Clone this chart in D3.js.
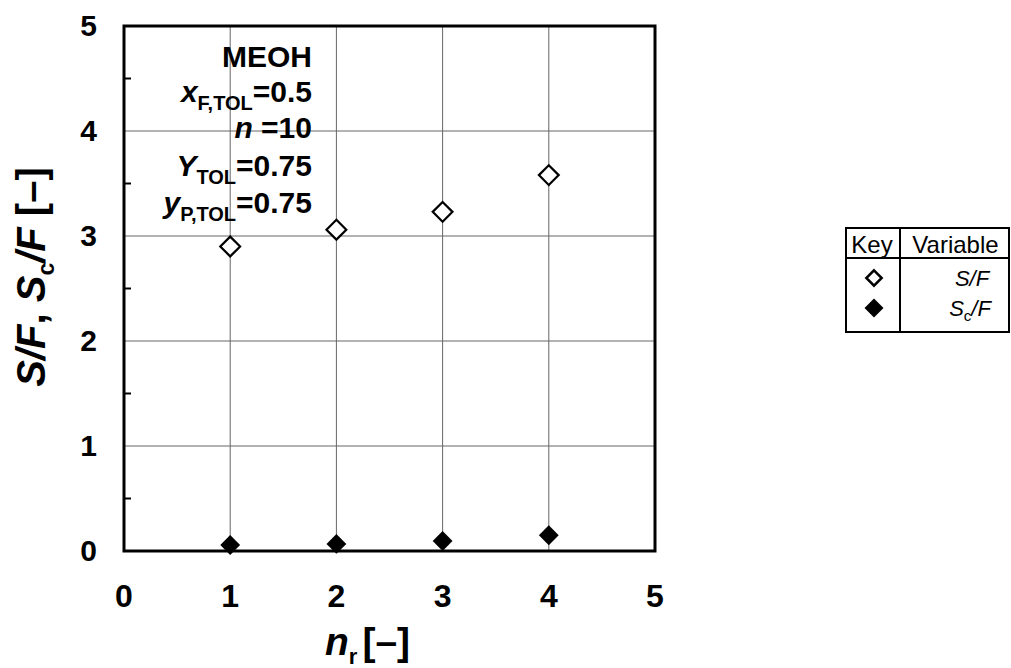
<!DOCTYPE html>
<html>
<head>
<meta charset="utf-8">
<script src="https://cdn.jsdelivr.net/npm/d3@7"></script>
<style>
  html, body { margin: 0; padding: 0; background: #fff; }
  svg { display: block; font-family: "Liberation Sans", Arial, sans-serif; }
</style>
</head>
<body>
<svg id="chart" width="1011" height="668"></svg>
<script>
// Number of reactor stages n_r and the two solvent ratios
const nr = [1, 2, 3, 4];
const sF = [2.90, 3.06, 3.23, 3.58];      // S/F
const scF = [0.057, 0.067, 0.095, 0.15];  // Sc/F
const xTicks = [0, 1, 2, 3, 4, 5];
const yTicks = [0, 1, 2, 3, 4, 5];
const yMinorTicks = [0.5, 1.5, 2.5, 3.5, 4.5];

const svg = d3.select("#chart");
const x = d3.scaleLinear().domain([0, 5]).range([124, 655]);
const y = d3.scaleLinear().domain([0, 5]).range([551, 26]);

// grid lines
const grid = svg.append("g").attr("stroke", "#666").attr("stroke-width", 1);
grid.selectAll("line.v").data(xTicks.slice(1, -1)).join("line")
  .attr("x1", d => x(d)).attr("x2", d => x(d))
  .attr("y1", y(0)).attr("y2", y(5));
grid.selectAll("line.h").data(yTicks.slice(1, -1)).join("line")
  .attr("x1", x(0)).attr("x2", x(5))
  .attr("y1", d => y(d)).attr("y2", d => y(d));

// minor ticks on the y axis, pointing inward
svg.append("g").selectAll("line").data(yMinorTicks).join("line")
  .attr("x1", x(0)).attr("x2", x(0) + 7)
  .attr("y1", d => y(d)).attr("y2", d => y(d))
  .attr("stroke", "#000").attr("stroke-width", 2);

// plot frame
svg.append("rect")
  .attr("x", x(0)).attr("y", y(5))
  .attr("width", x(5) - x(0)).attr("height", y(0) - y(5))
  .attr("fill", "none").attr("stroke", "#000").attr("stroke-width", 3);

// tick labels
svg.append("g").selectAll("text").data(xTicks).join("text")
  .attr("x", d => x(d)).attr("y", 607)
  .attr("text-anchor", "middle")
  .attr("font-size", 32).attr("font-weight", "bold")
  .text(d => d);
svg.append("g").selectAll("text").data(yTicks).join("text")
  .attr("x", 97).attr("y", d => y(d) + 10)
  .attr("text-anchor", "end")
  .attr("font-size", 30).attr("font-weight", "bold")
  .text(d => d);

// axis titles
const xt = svg.append("text")
  .attr("x", 325).attr("y", 655)
  .attr("font-size", 39).attr("font-weight", "bold");
xt.append("tspan").attr("font-style", "italic").text("n");
xt.append("tspan").attr("font-size", 22).attr("dy", 9).text("r");
xt.append("tspan").attr("dy", -9).attr("dx", 5).text("[\u2013]");

const yt = svg.append("text")
  .attr("transform", "translate(45,277) rotate(-90)")
  .attr("text-anchor", "middle")
  .attr("font-size", 40).attr("font-weight", "bold");
yt.append("tspan").attr("font-style", "italic").text("S/F");
yt.append("tspan").text(", ");
yt.append("tspan").attr("font-style", "italic").text("S");
yt.append("tspan").attr("font-size", 23).attr("dy", 9).text("c");
yt.append("tspan").attr("dy", -9).attr("font-style", "italic").text("/F");
yt.append("tspan").text(" [\u2013]");

// parameter annotation
const ann = svg.append("g").attr("font-size", 30).attr("font-weight", "bold")
  .attr("text-anchor", "end");
const annX = 312;
ann.append("text").attr("x", annX).attr("y", 67).text("MEOH");
function subLine(yy, main, sub, rest) {
  const t = ann.append("text").attr("x", annX).attr("y", yy);
  t.append("tspan").attr("font-style", "italic").text(main);
  if (sub) {
    t.append("tspan").attr("font-size", 20).attr("dy", 8).text(sub);
    t.append("tspan").attr("dy", -8).text(rest);
  } else {
    t.append("tspan").text(rest);
  }
}
subLine(102, "x", "F,TOL", "=0.5");
subLine(138, "n", null, " =10");
subLine(176, "Y", "TOL", "=0.75");
subLine(213, "y", "P,TOL", "=0.75");

// markers
const diamond = d3.symbol().type(d3.symbolDiamond2);
svg.append("g").selectAll("path").data(nr).join("path")
  .attr("d", diamond.size(250)())
  .attr("transform", (d, i) => `translate(${x(d)},${y(sF[i])})`)
  .attr("fill", "#fff").attr("stroke", "#000").attr("stroke-width", 2.2);
svg.append("g").selectAll("path").data(nr).join("path")
  .attr("d", diamond.size(250)())
  .attr("transform", (d, i) => `translate(${x(d)},${y(scF[i])})`)
  .attr("fill", "#000");

// legend table
const lg = svg.append("g");
const L = { x0: 846, x1: 900, x2: 1009, y0: 228, y1: 258, y2: 332 };
lg.append("rect").attr("x", L.x0).attr("y", L.y0)
  .attr("width", L.x2 - L.x0).attr("height", L.y2 - L.y0)
  .attr("fill", "#fff").attr("stroke", "#000").attr("stroke-width", 2);
lg.append("line").attr("x1", L.x1).attr("x2", L.x1).attr("y1", L.y0).attr("y2", L.y2)
  .attr("stroke", "#000").attr("stroke-width", 2);
lg.append("line").attr("x1", L.x0).attr("x2", L.x2).attr("y1", L.y1).attr("y2", L.y1)
  .attr("stroke", "#000").attr("stroke-width", 2);
lg.append("text").attr("x", (L.x0 + L.x1) / 2 - 1).attr("y", 253)
  .attr("text-anchor", "middle").attr("font-size", 24).text("Key");
lg.append("text").attr("x", (L.x1 + L.x2) / 2 + 1).attr("y", 253)
  .attr("text-anchor", "middle").attr("font-size", 24).text("Variable");
lg.append("path").attr("d", diamond.size(150)())
  .attr("transform", "translate(874,278)")
  .attr("fill", "#fff").attr("stroke", "#000").attr("stroke-width", 2.5);
lg.append("path").attr("d", diamond.size(230)())
  .attr("transform", "translate(874,308)")
  .attr("fill", "#000");
const l1 = lg.append("text").attr("x", 972).attr("y", 286)
  .attr("text-anchor", "middle").attr("font-size", 22).attr("font-style", "italic");
l1.text("S/F");
const l2 = lg.append("text").attr("x", 970).attr("y", 316)
  .attr("text-anchor", "middle").attr("font-size", 22).attr("font-style", "italic");
l2.append("tspan").text("S");
l2.append("tspan").attr("font-size", 15).attr("dy", 5).attr("font-style", "normal").text("c");
l2.append("tspan").attr("dy", -5).text("/F");
</script>
</body>
</html>
